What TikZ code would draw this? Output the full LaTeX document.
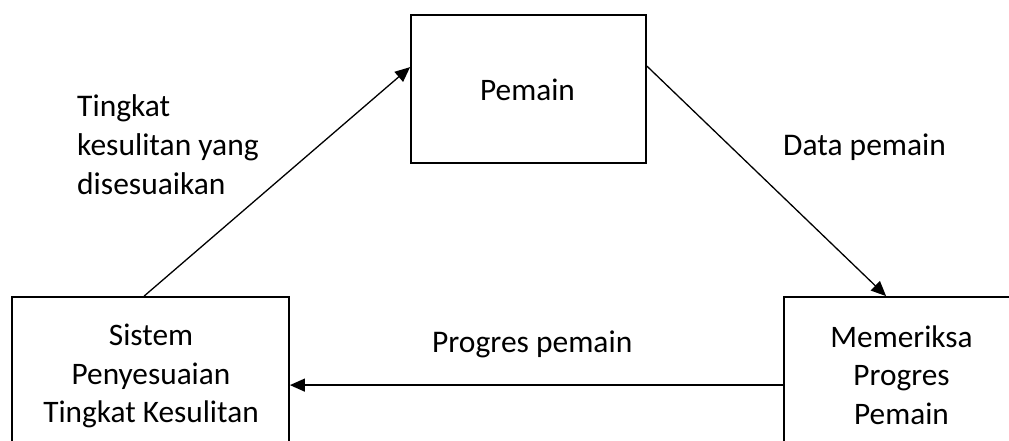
\documentclass[tikz,border=0pt]{standalone}
\usepackage{fontspec}
\setmainfont{Carlito}
\usetikzlibrary{arrows.meta}
\begin{document}
\begin{tikzpicture}[x=1pt,y=-1pt,
  box/.style={draw,line width=1.8pt,inner sep=0pt},
  boxtext/.style={align=center,inner sep=0pt,font=\fontsize{31.3}{38.5}\selectfont},
  lbl/.style={align=left,inner sep=0pt,font=\fontsize{31.5}{39}\selectfont},
  flow/.style={line width=1.3pt,-{Triangle[length=15pt,width=13pt]}}]
\clip (0,0) rectangle (1009,440);
% boxes
\node[box,minimum width=235pt,minimum height=148pt] (pem) at (528.5,89) {};
\node[box,minimum width=277pt,minimum height=170pt] (sys) at (150.5,382) {};
\node[box,minimum width=260pt,minimum height=170pt] (chk) at (914,382) {};
% box texts
\node[boxtext,anchor=base] (pemt) at (527.5,100) {Pemain};
\node[boxtext] (syst) at (151,376) {Sistem\\Penyesuaian\\Tingkat Kesulitan};
\node[boxtext] (chkt) at (901.5,375) {Memeriksa\\Progres\\Pemain};
% connectors
\draw[flow] ([xshift=133pt]sys.north west) -- ([yshift=-53pt]pem.north west);
\draw[flow] ([yshift=-52pt]pem.north east) -- ([xshift=103pt]chk.north west);
\draw[flow] ([yshift=-89pt]chk.north west) -- ([yshift=-89pt]sys.north east);
% connector labels
\node[lbl,anchor=north west] (l1) at (77,94) {Tingkat\\kesulitan yang\\disesuaikan};
\node[lbl,anchor=base west] (l2) at (783,155) {Data pemain};
\node[lbl,anchor=base west] (l3) at (432,352) {Progres pemain};
\end{tikzpicture}
\end{document}
